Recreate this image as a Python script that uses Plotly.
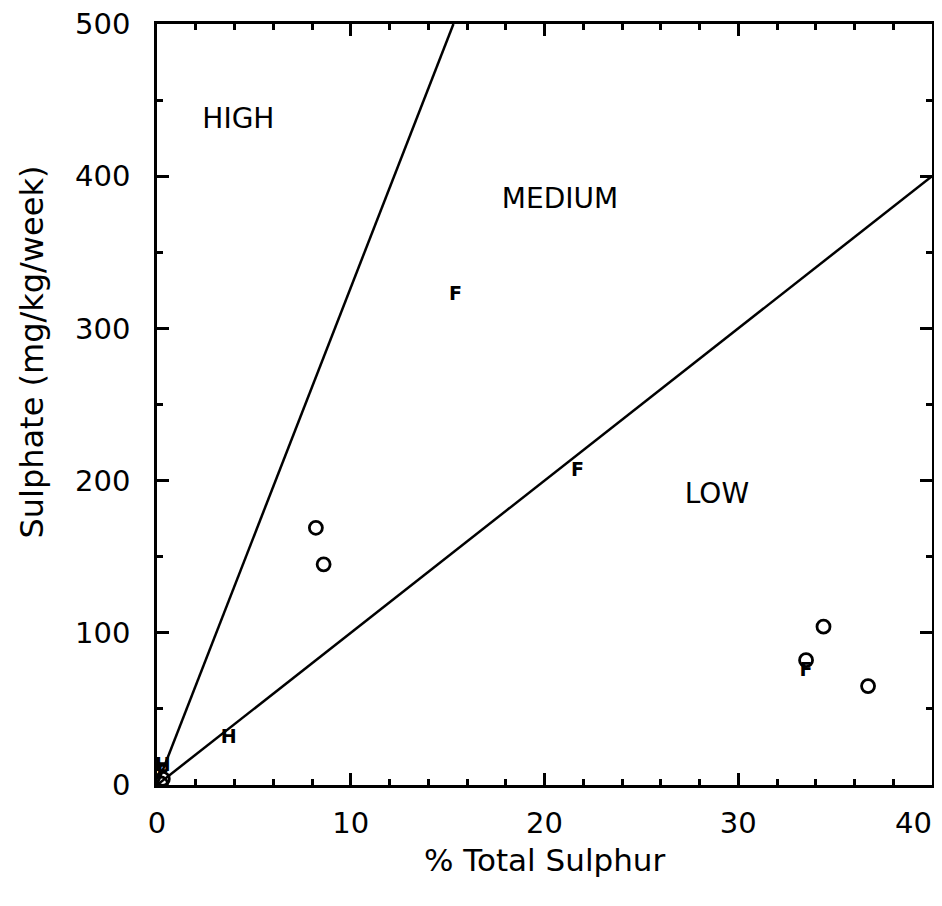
import plotly.graph_objects as go

# Data
o_x = [8.2, 8.6, 34.4, 33.5, 36.7, 0.3, 0.2]
o_y = [169, 145, 104, 82, 65, 4, 1]
f_x = [15.4, 21.7, 33.5, 0.3]
f_y = [322, 206, 75, 8]
f_text = ["F", "F", "F", "F"]
h_x = [3.7, 0.3]
h_y = [31, 12]
h_text = ["H", "H"]

high_line_x = [0, 15.3]
high_line_y = [0, 500]
low_line_x = [0, 40]
low_line_y = [0, 400]

region_labels = ["HIGH", "MEDIUM", "LOW"]
region_x = [4.2, 20.8, 28.9]
region_y = [436, 384, 190]

x_tickvals = [0, 10, 20, 30, 40]
x_ticktext = ["0", "10", "20", "30", "40\u2007\u2007"]
y_tickvals = [0, 100, 200, 300, 400, 500]

FONT = "DejaVu Sans"

fig = go.Figure()
fig.add_trace(go.Scatter(x=high_line_x, y=high_line_y, mode="lines",
                         line=dict(color="black", width=2.5), showlegend=False))
fig.add_trace(go.Scatter(x=low_line_x, y=low_line_y, mode="lines",
                         line=dict(color="black", width=2.5), showlegend=False))
fig.add_trace(go.Scatter(x=o_x, y=o_y, mode="markers",
                         marker=dict(symbol="circle-open", size=13, color="black",
                                     line=dict(width=2.8, color="black")),
                         showlegend=False))
fig.add_trace(go.Scatter(x=f_x, y=f_y, mode="text", text=["<b>%s</b>" % t for t in f_text],
                         textfont=dict(family=FONT, size=19, color="black"),
                         showlegend=False))
fig.add_trace(go.Scatter(x=h_x, y=h_y, mode="text", text=["<b>%s</b>" % t for t in h_text],
                         textfont=dict(family=FONT, size=19, color="black"),
                         showlegend=False))
fig.add_trace(go.Scatter(x=region_x, y=region_y, mode="text", text=region_labels,
                         textfont=dict(family=FONT, size=28, color="black"),
                         showlegend=False))

axis_common = dict(
    showline=True, linecolor="black", linewidth=2.5, mirror="ticks",
    ticks="inside", ticklen=12, tickwidth=2.5, tickcolor="black",
    showgrid=False, zeroline=False, ticklabeloverflow="allow",
    tickfont=dict(family=FONT, size=29, color="black"),
)

fig.update_xaxes(range=[0, 40], tickvals=x_tickvals, ticktext=x_ticktext,
                 minor=dict(dtick=2, ticks="inside", ticklen=6, tickwidth=2.5, tickcolor="black"),
                 ticklabelstandoff=10, **axis_common)
fig.update_yaxes(range=[0, 500], tickvals=y_tickvals,
                 minor=dict(dtick=50, ticks="inside", ticklen=6, tickwidth=2.5, tickcolor="black"),
                 ticklabelstandoff=18, **axis_common)

fig.add_annotation(text="% Total Sulphur", xref="paper", yref="paper",
                   x=0.5, y=-(862 - 787) / 765, xanchor="center", yanchor="middle",
                   showarrow=False, font=dict(family=FONT, size=31, color="black"))
fig.add_annotation(text="Sulphate (mg/kg/week)", xref="paper", yref="paper",
                   x=-(155 - 30) / 777, y=(787 - 352) / 765, xanchor="center", yanchor="middle",
                   textangle=-90, showarrow=False,
                   font=dict(family=FONT, size=32, color="black"))

fig.update_layout(width=926, height=890, plot_bgcolor="white", paper_bgcolor="white",
                  margin=dict(l=149, r=2, t=16, b=113, autoexpand=False))

fig.write_html("out.html")
